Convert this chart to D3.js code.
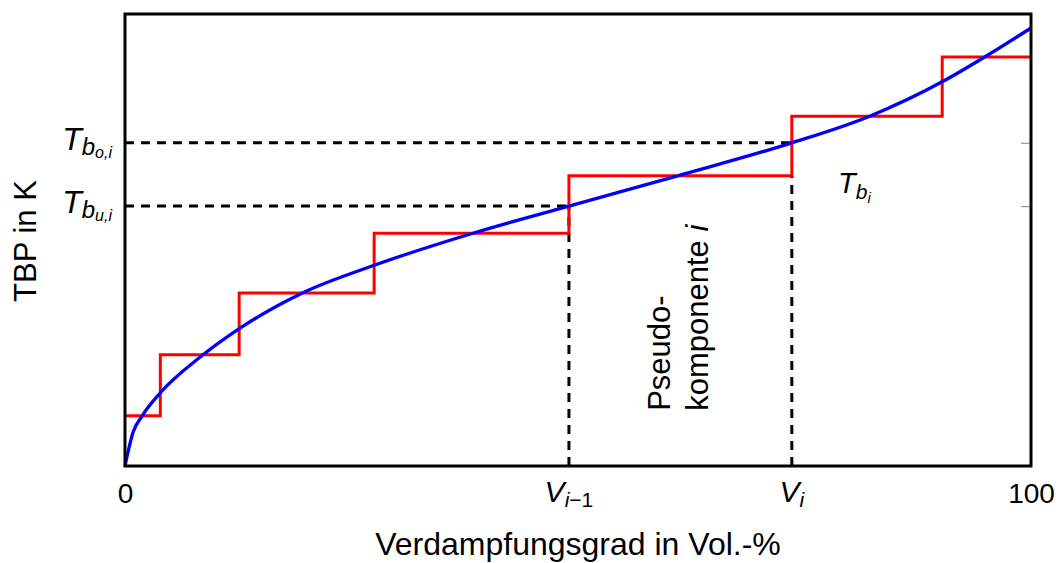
<!DOCTYPE html>
<html>
<head>
<meta charset="utf-8">
<script src="https://cdn.jsdelivr.net/npm/d3@7"></script>
<style>
  html, body { margin: 0; padding: 0; background: #fff; }
  svg { display: block; font-family: "Liberation Sans", Arial, Helvetica, sans-serif; }
</style>
</head>
<body>
<svg id="chart" width="1060" height="563"></svg>
<script>
// Boiling-point curve (TBP) over the evaporated volume fraction, in % of scale
const curveVol = [0, 0.9, 1.9, 3.9, 8.3, 12.7, 19.7, 27.5, 38.4, 49.0, 61.0, 73.6, 82.2, 90.2, 94.9, 100];
const curveTbp = [0, 7.5, 11.1, 16.2, 24.1, 30.5, 38.4, 44.4, 51.5, 57.5, 64.2, 71.5, 77.4, 85.0, 90.5, 96.9];

// Pseudo-component cuts: volume boundaries and mean boiling temperature of each cut
const cutEdges = [0, 3.9, 12.6, 27.5, 49.0, 73.6, 90.2, 100];
const cutLevels = [11.1, 24.6, 38.3, 51.5, 64.2, 77.4, 90.5];

// Highlighted pseudo-component i
const volLower = 49.0;   // V_{i-1}
const volUpper = 73.6;   // V_i
const tbLower = 57.5;    // T_{b_u,i}
const tbUpper = 71.5;    // T_{b_o,i}
const tbMean = 64.2;     // T_{b_i}

const xTickValues = [0, 100];
const xTickLabels = ["0", "100"];

const svg = d3.select("#chart");
const x = d3.scaleLinear().domain([0, 100]).range([125, 1031]);
const y = d3.scaleLinear().domain([0, 100]).range([466, 14]);

// Inward grey ticks on the right edge
const rightAxis = d3.axisLeft(y).tickValues([tbLower, tbUpper]).tickSize(10).tickFormat("");
const ra = svg.append("g").attr("transform", `translate(${x(100)},0)`).call(rightAxis);
ra.select(".domain").remove();
ra.selectAll(".tick line").attr("stroke", "#999").attr("stroke-width", 1.2);

// Dashed guide lines for component i
const dash = svg.append("g")
  .attr("stroke", "#000").attr("stroke-width", 3).attr("stroke-dasharray", "9,7").attr("fill", "none");
dash.append("line").attr("x1", x(0)).attr("x2", x(volUpper)).attr("y1", y(tbUpper)).attr("y2", y(tbUpper));
dash.append("line").attr("x1", x(0)).attr("x2", x(volLower)).attr("y1", y(tbLower)).attr("y2", y(tbLower));
dash.append("line").attr("x1", x(volLower)).attr("x2", x(volLower)).attr("y1", y(0)).attr("y2", y(tbLower));
dash.append("line").attr("x1", x(volUpper)).attr("x2", x(volUpper)).attr("y1", y(0)).attr("y2", y(tbMean));

// Step function of the pseudo-components
const stepPts = cutLevels.map((v, i) => [cutEdges[i], v]);
stepPts.push([cutEdges[cutEdges.length - 1], cutLevels[cutLevels.length - 1]]);
svg.append("path")
  .attr("d", d3.line().x(d => x(d[0])).y(d => y(d[1])).curve(d3.curveStepAfter)(stepPts))
  .attr("fill", "none").attr("stroke", "#ff0000").attr("stroke-width", 3);

// TBP curve
const curvePts = curveVol.map((v, i) => [v, curveTbp[i]]);
svg.append("path")
  .attr("d", d3.line().x(d => x(d[0])).y(d => y(d[1])).curve(d3.curveMonotoneX)(curvePts))
  .attr("fill", "none").attr("stroke", "#0000ff").attr("stroke-width", 3.3);

// Frame
svg.append("rect")
  .attr("x", x(0)).attr("y", y(100))
  .attr("width", x(100) - x(0)).attr("height", y(0) - y(100))
  .attr("fill", "none").attr("stroke", "#000").attr("stroke-width", 3);

// Bottom tick labels
const bottomAxis = d3.axisBottom(x).tickValues(xTickValues).tickSize(0).tickPadding(0)
  .tickFormat((d, i) => xTickLabels[i]);
const ba = svg.append("g").attr("transform", `translate(0,${y(0)})`).call(bottomAxis);
ba.select(".domain").remove();
ba.selectAll(".tick text")
  .attr("font-family", "Liberation Sans, Arial, sans-serif")
  .attr("font-size", 28).attr("fill", "#000").attr("dy", null).attr("y", 37);

// V labels
function vLabel(v, sub) {
  const t = svg.append("text").attr("x", x(v)).attr("y", 502).attr("text-anchor", "middle")
    .attr("font-size", 30);
  t.append("tspan").attr("font-style", "italic").text("V");
  t.append("tspan").attr("font-size", 21).attr("dy", 5).attr("font-style", "italic").text(sub[0]);
  if (sub.length > 1) t.append("tspan").attr("font-size", 21).text(sub.slice(1));
}
vLabel(volLower, "i\u22121");
vLabel(volUpper, "i");

// T labels on the left
function tLabel(v, mid) {
  const t = svg.append("text").attr("x", 112).attr("y", y(v) + 7).attr("text-anchor", "end")
    .attr("font-size", 32).attr("font-style", "italic");
  t.append("tspan").text("T");
  t.append("tspan").attr("font-size", 24).attr("dy", 5).text("b");
  t.append("tspan").attr("font-size", 16).attr("dy", 3).text(mid + ",i");
}
tLabel(tbUpper, "o");
tLabel(tbLower, "u");

// T_{b_i} label
const tbiVol = 78.7, tbiTemp = 60.4;
const tbi = svg.append("text").attr("x", x(tbiVol)).attr("y", y(tbiTemp))
  .attr("font-size", 29).attr("font-style", "italic");
tbi.append("tspan").text("T");
tbi.append("tspan").attr("font-size", 21).attr("dy", 6).text("b");
tbi.append("tspan").attr("font-size", 15).attr("dy", 4).text("i");

// Pseudo-component annotation (rotated)
const pcVol = 60.2, pcTemp = 12.2;
const pc = svg.append("text")
  .attr("transform", `translate(${x(pcVol)},${y(pcTemp)}) rotate(-90)`)
  .attr("font-size", 31);
pc.append("tspan").attr("x", 0).attr("y", 0).text("Pseudo-");
pc.append("tspan").attr("x", 0).attr("y", 38).text("komponente ");
pc.append("tspan").attr("font-style", "italic").text("i");

// Axis titles
svg.append("text").attr("x", 578).attr("y", 555).attr("text-anchor", "middle")
  .attr("font-size", 32).text("Verdampfungsgrad in Vol.-%");
svg.append("text").attr("transform", "translate(36,241) rotate(-90)").attr("text-anchor", "middle")
  .attr("font-size", 31).text("TBP in K");
</script>
</body>
</html>
